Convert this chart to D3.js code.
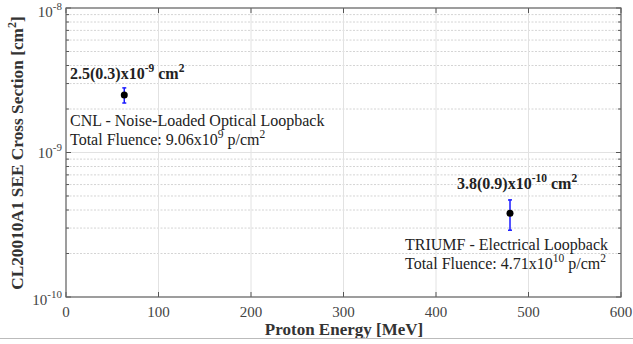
<!DOCTYPE html>
<html><head><meta charset="utf-8">
<script src="https://cdn.jsdelivr.net/npm/d3@7"></script>
<style>body{margin:0;background:#fff}svg{display:block}text{font-family:"Liberation Serif","Times New Roman",serif}</style>
</head><body>
<script>
const energies = [63, 480];
const crossSections = [2.5e-9, 3.8e-10];
const errors = [0.3e-9, 0.9e-10];
const valueLabels = [["2.5(0.3)x10", "-9", " cm", "2"], ["3.8(0.9)x10", "-10", " cm", "2"]];
const facilityLabels = ["CNL - Noise-Loaded Optical Loopback", "TRIUMF - Electrical Loopback"];
const fluenceLabels = [["Total Fluence: 9.06x10", "9", " p/cm", "2"], ["Total Fluence: 4.71x10", "10", " p/cm", "2"]];
const xTicks = [0, 100, 200, 300, 400, 500, 600];
const yMajor = [1e-10, 1e-9, 1e-8];
const yExps = ["-10", "-9", "-8"];

const W = 633, H = 344;
const svg = d3.select("body").append("svg").attr("width", W).attr("height", H);
const x = d3.scaleLinear().domain([0, 600]).range([66, 621]);
const y = d3.scaleLog().domain([1e-10, 1e-8]).range([297, 8]);

// minor grid
const minors = [];
[1e-10, 1e-9].forEach(d => { for (let k = 2; k <= 9; k++) minors.push(d * k); });
svg.append("g").selectAll("line").data(minors).join("line")
  .attr("x1", 66).attr("x2", 621).attr("y1", d => y(d)).attr("y2", d => y(d))
  .attr("stroke", "#d4d4d4").attr("stroke-width", 1).attr("stroke-dasharray", "2,1.5");
svg.append("g").selectAll("line").data(yMajor).join("line")
  .attr("x1", 66).attr("x2", 621).attr("y1", d => y(d)).attr("y2", d => y(d))
  .attr("stroke", "#e2e2e2");
svg.append("g").selectAll("line").data(xTicks).join("line")
  .attr("x1", d => x(d)).attr("x2", d => x(d)).attr("y1", 8).attr("y2", 297)
  .attr("stroke", "#e2e2e2");

// ticks
const tk = svg.append("g").attr("stroke", "#555").attr("stroke-width", 1);
xTicks.forEach(d => {
  tk.append("line").attr("x1", x(d)).attr("x2", x(d)).attr("y1", 297).attr("y2", 292);
  tk.append("line").attr("x1", x(d)).attr("x2", x(d)).attr("y1", 8).attr("y2", 13);
});
minors.concat(yMajor).forEach(d => {
  const len = yMajor.includes(d) ? 5 : 3;
  tk.append("line").attr("x1", 66).attr("x2", 66 + len).attr("y1", y(d)).attr("y2", y(d));
  tk.append("line").attr("x1", 621).attr("x2", 621 - len).attr("y1", y(d)).attr("y2", y(d));
});

// frame
svg.append("rect").attr("x", 66).attr("y", 8).attr("width", 555).attr("height", 289)
  .attr("fill", "none").attr("stroke", "#666").attr("stroke-width", 1.2);

// x tick labels
svg.append("g").selectAll("text").data(xTicks).join("text")
  .attr("x", d => x(d)).attr("y", 317).attr("text-anchor", "middle")
  .attr("font-size", 15).attr("fill", "#444").text(d => d);

// y tick labels
const yOff = [8, 5, 9];
yMajor.forEach((d, i) => {
  const t = svg.append("text").attr("x", 62).attr("y", y(d) + yOff[i]).attr("text-anchor", "end")
    .attr("font-size", 15).attr("fill", "#444");
  t.append("tspan").text("10");
  t.append("tspan").attr("dy", -7).attr("font-size", 11).text(yExps[i]);
});

// axis titles
svg.append("text").attr("x", 344).attr("y", 335).attr("text-anchor", "middle")
  .attr("font-size", 17).attr("font-weight", "bold").attr("fill", "#333").text("Proton Energy [MeV]");
const yt = svg.append("text").attr("transform", "translate(23,153) rotate(-90)")
  .attr("text-anchor", "middle").attr("font-size", 17.3).attr("font-weight", "bold").attr("fill", "#333");
yt.append("tspan").text("CL20010A1 SEE Cross Section [cm");
yt.append("tspan").attr("dy", -7).attr("font-size", 12).text("2");
yt.append("tspan").attr("dy", 7).text("]");

// bottom line
svg.append("line").attr("x1", 0).attr("x2", W).attr("y1", 338.5).attr("y2", 338.5).attr("stroke", "#bbb");

// error bars and points
const pts = energies.map((e, i) => ({e, v: crossSections[i], err: errors[i]}));
const eb = svg.append("g").attr("stroke", "#1a1aff").attr("stroke-width", 1.5);
pts.forEach(p => {
  eb.append("line").attr("x1", x(p.e)).attr("x2", x(p.e)).attr("y1", y(p.v + p.err)).attr("y2", y(p.v - p.err));
  eb.append("line").attr("x1", x(p.e) - 2).attr("x2", x(p.e) + 2).attr("y1", y(p.v + p.err)).attr("y2", y(p.v + p.err));
  eb.append("line").attr("x1", x(p.e) - 2).attr("x2", x(p.e) + 2).attr("y1", y(p.v - p.err)).attr("y2", y(p.v - p.err));
});
svg.append("g").selectAll("circle").data(pts).join("circle")
  .attr("cx", d => x(d.e)).attr("cy", d => y(d.v)).attr("r", 3.5).attr("fill", "#000");

function supText(xp, yp, parts, bold) {
  const t = svg.append("text").attr("x", xp).attr("y", yp).attr("font-size", 16)
    .attr("fill", "#222").attr("font-weight", bold ? "bold" : "normal");
  t.append("tspan").text(parts[0]);
  t.append("tspan").attr("dy", -7).attr("font-size", 11.5).text(parts[1]);
  t.append("tspan").attr("dy", 7).text(parts[2]);
  t.append("tspan").attr("dy", -7).attr("font-size", 11.5).text(parts[3]);
}
supText(70, 79, valueLabels[0], true);
svg.append("text").attr("x", 70).attr("y", 126).attr("font-size", 16).attr("fill", "#222").text(facilityLabels[0]);
supText(70, 145, fluenceLabels[0], false);
supText(457, 189, valueLabels[1], true);
svg.append("text").attr("x", 405).attr("y", 250).attr("font-size", 16).attr("fill", "#222").text(facilityLabels[1]);
supText(405, 269, fluenceLabels[1], false);
</script>
</body></html>
